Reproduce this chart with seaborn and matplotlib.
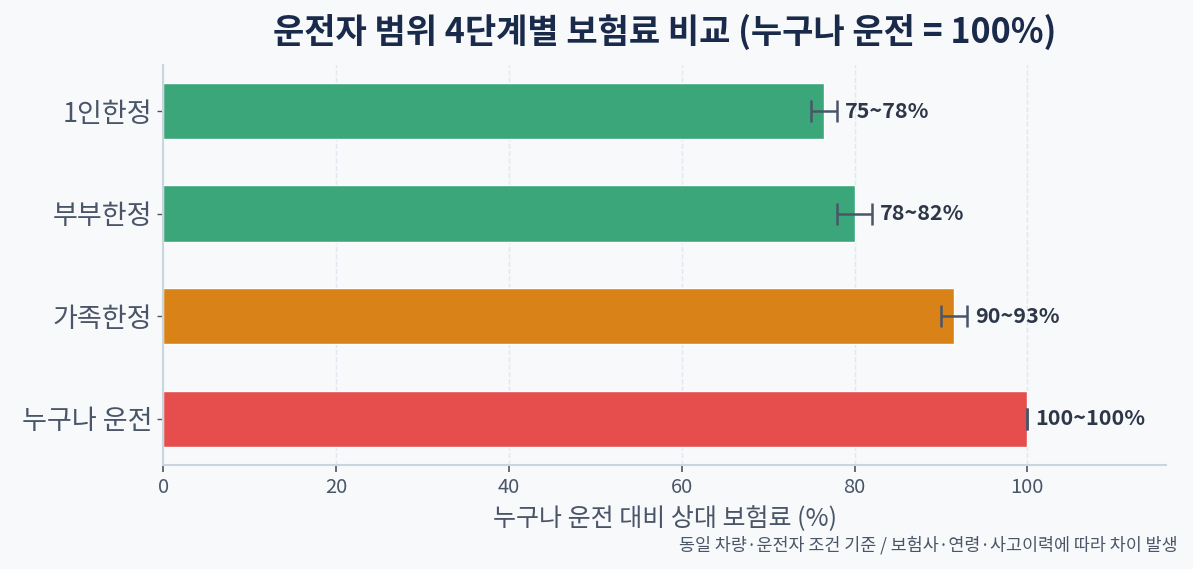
import matplotlib as mpl

mpl.use('Agg')
import pandas as pd
import matplotlib.pyplot as plt
import seaborn as sns

categories = ['1인한정', '부부한정', '가족한정', '누구나 운전']
low = [75, 78, 90, 100]
high = [78, 82, 93, 100]
mid = [(a + b) / 2 for a, b in zip(low, high)]
colors = ['#3ba67a', '#3ba67a', '#d98218', '#e64e4e']

df = pd.DataFrame({'driver': categories, 'value': mid})

sns.set_style('white')
plt.rcParams['font.family'] = ['Noto Sans CJK KR', 'DejaVu Sans']

bg = '#f7f9fb'
fig, ax = plt.subplots(figsize=(11.93, 5.69), dpi=100)
fig.patch.set_facecolor(bg)
ax.set_facecolor(bg)

sns.barplot(data=df, x='value', y='driver', hue='driver', palette=colors,
            order=categories, orient='h', width=0.55, saturation=1,
            legend=False, ax=ax)

err = [[m - l for m, l in zip(mid, low)], [h - m for m, h in zip(mid, high)]]
ax.errorbar(mid, range(len(categories)), xerr=err, fmt='none',
            ecolor='#4a5568', elinewidth=1.8, capsize=8, capthick=1.8, zorder=3)

for i, (l, h) in enumerate(zip(low, high)):
    ax.text(h + 0.9, i, f'{l}~{h}%', va='center', ha='left', fontsize=15.5,
            fontweight='bold', color='#2d3748')

ax.set_xlim(0, 116)
ax.set_ylim(3.45, -0.45)
ax.set_xticks([0, 20, 40, 60, 80, 100])
ax.grid(axis='x', linestyle='--', color='#e2e8f0', linewidth=1)
ax.set_axisbelow(True)

for s in ['top', 'right']:
    ax.spines[s].set_visible(False)
for s in ['left', 'bottom']:
    ax.spines[s].set_color('#cbd5e0')
    ax.spines[s].set_linewidth(1.5)

ax.tick_params(axis='y', left=True, labelsize=19.5, colors='#4a5568',
               length=4, width=1, pad=4)
ax.tick_params(axis='x', bottom=True, labelsize=14.5, colors='#4a5568',
               length=5, width=1.2)
ax.set_ylabel('')
ax.set_xlabel('누구나 운전 대비 상대 보험료 (%)', fontsize=18, color='#4a5568',
              labelpad=6)
ax.set_title('운전자 범위 4단계별 보험료 비교 (누구나 운전 = 100%)', fontsize=24.5,
             fontweight='bold', color='#1a2a4a', pad=16)

fig.text(0.987, 0.025, '동일 차량·운전자 조건 기준 / 보험사·연령·사고이력에 따라 차이 발생',
         ha='right', va='bottom', fontsize=12.5, color='#4a5568')

plt.subplots_adjust(left=0.137, right=0.977, top=0.886, bottom=0.183)
plt.savefig('out.png', dpi=100, facecolor=bg)
